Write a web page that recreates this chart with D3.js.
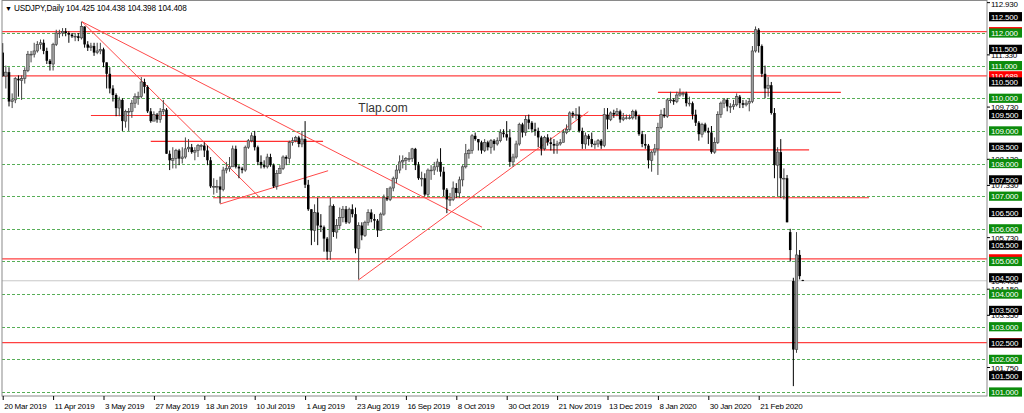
<!DOCTYPE html>
<html><head><meta charset="utf-8">
<script src="https://cdn.jsdelivr.net/npm/d3@7"></script>
<style>
body{margin:0;background:#fff;overflow:hidden}
svg{display:block}
text{font-family:"Liberation Sans",Arial,sans-serif}
</style>
</head><body>
<script>
// ---------- DATA ----------
const symbolTitle = "USDJPY,Daily";
const lastQuote = ["104.425","104.438","104.398","104.408"];
const tickLabels = ["20 Mar 2019","11 Apr 2019","3 May 2019","27 May 2019","18 Jun 2019","10 Jul 2019",
  "1 Aug 2019","23 Aug 2019","16 Sep 2019","8 Oct 2019","30 Oct 2019","21 Nov 2019","13 Dec 2019",
  "8 Jan 2020","30 Jan 2020","21 Feb 2020"];
const barsPerTick = 16;

const opens = [
111.40,110.68,110.80,109.90,109.95,110.60,110.55,110.60,110.85,111.35,
111.35,111.45,111.65,111.70,111.45,111.15,111.05,111.65,112.00,112.00,
112.05,112.00,111.95,111.90,111.90,111.85,112.20,111.65,111.55,111.60,
111.40,111.45,111.50,111.10,110.75,110.30,110.10,109.70,109.95,109.30,
109.60,109.60,109.85,110.05,110.05,110.50,110.35,109.60,109.30,109.50,
109.35,109.60,109.65,108.30,108.10,108.15,108.40,108.15,108.20,108.45,
108.50,108.35,108.40,108.55,108.55,108.40,108.10,107.30,107.30,107.30,
107.20,107.80,107.85,107.90,108.45,107.90,107.85,107.80,108.50,108.70,
108.85,108.50,108.05,107.95,107.90,108.20,107.95,107.30,107.70,107.85,
108.20,108.15,108.65,108.70,108.80,108.60,108.75,107.35,106.60,105.95,
106.50,106.10,106.05,105.70,105.30,106.70,105.90,106.10,106.35,106.60,
106.20,106.60,106.45,105.40,106.10,105.80,106.20,106.50,106.30,106.25,
105.95,106.45,106.95,106.90,107.25,107.55,107.80,108.05,108.10,108.15,
108.15,108.45,107.95,107.55,107.55,107.05,107.80,107.80,107.90,108.05,
107.75,107.20,106.90,106.90,107.25,107.10,107.50,107.90,108.30,108.40,
108.85,108.75,108.65,108.40,108.65,108.50,108.70,108.60,108.70,108.95,
108.90,108.80,108.05,108.20,108.60,109.20,108.95,109.35,109.25,109.05,
109.00,108.80,108.45,108.80,108.65,108.60,108.55,108.60,108.65,108.95,
109.05,109.55,109.50,109.50,109.00,108.60,108.85,108.75,108.60,108.60,
108.70,108.55,109.50,109.35,109.55,109.50,109.60,109.35,109.40,109.40,
109.40,109.60,109.45,108.90,108.60,108.55,108.10,108.35,108.45,109.10,
109.50,109.45,109.95,109.95,109.90,110.10,110.15,110.15,109.85,109.85,
109.50,109.25,108.90,109.20,109.00,108.95,108.35,108.65,109.50,109.85,
109.95,109.75,109.75,109.80,110.05,109.85,109.80,109.85,109.90,111.45,
112.10,111.60,110.75,110.30,110.40,109.55,107.95,108.35,107.55,107.55,
105.90,104.40,102.30,105.20,104.425];
const highs = [
111.69,111.00,110.95,110.15,110.65,110.70,110.70,110.95,111.45,111.45,
111.70,111.75,111.80,111.80,111.55,111.20,111.70,112.10,112.10,112.15,
112.15,112.05,112.00,112.00,112.00,112.35,112.20,111.75,111.70,111.70,
111.70,111.70,111.55,111.10,110.95,110.40,110.15,110.05,110.00,109.65,
109.70,109.95,110.15,110.20,110.65,110.60,110.40,109.70,109.60,109.55,
109.70,109.95,109.70,108.40,108.50,108.45,108.45,108.50,108.80,108.75,
108.60,108.50,108.60,108.60,108.65,108.55,108.20,107.55,107.50,107.60,
107.90,108.05,108.20,108.55,108.55,107.95,107.90,108.55,108.75,108.95,
109.00,108.55,108.25,108.10,108.30,108.30,108.00,107.80,107.95,108.25,
108.25,108.70,108.80,108.85,108.85,109.00,109.30,107.50,106.60,106.75,
106.95,106.45,106.10,105.75,106.95,106.75,106.30,106.65,106.70,106.70,
106.65,106.75,106.65,106.20,106.20,106.25,106.60,106.60,106.45,106.30,
106.50,107.05,107.25,107.30,107.60,107.95,108.25,108.25,108.20,108.35,
108.48,108.48,108.05,107.75,107.70,107.85,107.95,108.05,108.15,108.47,
107.90,107.25,107.10,107.45,107.40,107.60,107.95,108.60,108.45,108.90,
108.95,108.75,108.70,108.75,108.70,108.75,108.75,108.80,109.05,109.05,
109.30,109.05,108.30,108.70,109.25,109.25,109.48,109.50,109.30,109.25,
109.10,108.85,108.85,108.90,108.80,108.75,108.70,108.75,109.05,109.20,
109.60,109.60,109.70,109.75,109.10,108.95,108.90,108.95,108.70,108.75,
108.75,109.70,109.70,109.60,109.65,109.70,109.65,109.55,109.50,109.50,
109.65,109.65,109.50,109.00,108.90,108.60,108.40,108.60,109.25,109.65,
109.70,110.00,110.20,110.00,110.20,110.30,110.20,110.20,110.05,109.90,
109.65,109.30,109.25,109.25,109.10,109.15,108.80,109.60,109.90,110.00,
110.00,109.85,109.95,110.15,110.10,109.95,109.95,110.00,111.60,112.20,
112.15,111.65,111.00,110.65,110.50,109.70,108.50,108.75,107.85,107.65,
106.00,104.50,105.90,105.35,104.438];
const lows = [
110.65,110.30,109.75,109.70,109.85,110.05,109.95,110.45,110.80,111.10,
111.25,111.40,111.50,111.35,111.05,110.85,110.85,111.60,111.85,111.90,
111.90,111.70,111.85,111.75,111.75,111.80,111.55,111.45,111.45,111.30,
111.35,111.35,110.95,110.30,110.15,109.90,109.45,109.45,109.00,109.10,
109.00,109.40,109.70,109.80,110.00,110.15,109.55,109.25,109.30,109.25,
109.25,109.50,108.30,107.80,107.85,107.85,107.95,108.00,108.15,108.35,
108.30,108.10,108.20,108.40,108.20,107.95,107.25,107.05,107.10,106.78,
107.15,107.70,107.75,107.90,107.85,107.55,107.70,107.75,108.45,108.65,
108.40,107.95,107.85,107.85,107.85,107.90,107.25,107.20,107.70,107.80,
107.95,108.00,108.55,108.65,108.50,108.50,107.25,106.55,105.50,105.60,
105.50,105.90,105.30,105.05,105.05,105.75,105.70,106.00,106.20,106.15,
106.15,106.35,105.25,104.45,105.65,105.75,106.10,106.20,106.00,105.75,
105.95,106.40,106.85,106.85,107.15,107.40,107.70,107.85,107.80,108.05,
108.05,107.80,107.50,107.30,107.00,107.00,107.50,107.65,107.75,107.60,
107.00,106.48,106.70,106.85,106.95,106.95,107.30,107.85,108.15,108.30,
108.70,108.40,108.30,108.35,108.40,108.30,108.40,108.55,108.65,108.80,
108.70,107.90,107.90,108.15,108.55,108.80,108.85,109.05,108.95,108.85,
108.50,108.25,108.40,108.55,108.40,108.30,108.30,108.55,108.65,108.90,
109.00,109.40,109.35,108.95,108.45,108.45,108.55,108.50,108.45,108.50,
108.45,108.50,109.05,109.30,109.40,109.45,109.25,109.30,109.35,109.35,
109.35,109.35,108.85,108.50,108.45,107.85,107.75,108.25,107.65,109.05,
109.40,109.40,109.85,109.80,109.85,110.05,110.05,109.75,109.75,109.35,
109.15,108.70,108.80,108.95,108.60,108.30,108.30,108.60,109.40,109.70,
109.60,109.55,109.65,109.75,109.70,109.70,109.75,109.60,109.85,111.40,
111.40,110.65,110.00,110.05,109.50,107.55,107.00,106.95,106.90,106.20,
105.00,101.18,102.20,104.45,104.398];
const closes = [
110.68,110.80,109.90,109.95,110.60,110.55,110.60,110.85,111.35,111.35,
111.45,111.65,111.70,111.45,111.15,111.05,111.65,112.00,112.00,112.05,
112.00,111.95,111.90,111.90,111.85,112.20,111.65,111.55,111.60,111.40,
111.45,111.50,111.10,110.75,110.30,110.10,109.70,109.95,109.30,109.60,
109.60,109.85,110.05,110.05,110.50,110.35,109.60,109.30,109.50,109.35,
109.60,109.65,108.30,108.10,108.15,108.40,108.15,108.20,108.45,108.50,
108.35,108.40,108.55,108.55,108.40,108.10,107.30,107.30,107.30,107.20,
107.80,107.85,107.90,108.45,107.90,107.85,107.80,108.50,108.70,108.85,
108.50,108.05,107.95,107.90,108.20,107.95,107.30,107.70,107.85,108.20,
108.15,108.65,108.70,108.80,108.60,108.75,107.35,106.60,105.95,106.50,
106.10,106.05,105.70,105.30,106.70,105.90,106.10,106.35,106.60,106.20,
106.60,106.45,105.40,106.10,105.80,106.20,106.50,106.30,106.25,105.95,
106.45,106.95,106.90,107.25,107.55,107.80,108.05,108.10,108.15,108.15,
108.45,107.95,107.55,107.55,107.05,107.80,107.80,107.90,108.05,107.75,
107.20,106.90,106.90,107.25,107.10,107.50,107.90,108.30,108.40,108.85,
108.75,108.65,108.40,108.65,108.50,108.70,108.60,108.70,108.95,108.90,
108.80,108.05,108.20,108.60,109.20,108.95,109.35,109.25,109.05,109.00,
108.80,108.45,108.80,108.65,108.60,108.55,108.60,108.65,108.95,109.05,
109.55,109.50,109.50,109.00,108.60,108.85,108.75,108.60,108.60,108.70,
108.55,109.50,109.35,109.55,109.50,109.60,109.35,109.40,109.40,109.40,
109.60,109.45,108.90,108.60,108.55,108.10,108.35,108.45,109.10,109.50,
109.45,109.95,109.95,109.90,110.10,110.15,110.15,109.85,109.85,109.50,
109.25,108.90,109.20,109.00,108.95,108.35,108.65,109.50,109.85,109.95,
109.75,109.75,109.80,110.05,109.85,109.80,109.85,109.90,111.45,112.10,
111.60,110.75,110.30,110.40,109.55,107.95,108.35,107.55,107.55,106.20,
105.35,102.30,105.20,104.55,104.408];

const gridLevels = [112,111,110,109,108,107,106,105,104,103,102,101];
const halfLevels = [112.5,111.5,110.5,109.5,108.5,107.5,106.5,105.5,104.5,103.5,102.5,101.5];
const scaleTicks = [112.930,111.330,109.730,108.130,107.330,105.730,104.150,103.350,101.750];
const redLevels = [112.04,110.689,105.08,102.51];
const bidPrice = 104.408;
// horizontal segments: [price, fromBar, toBar]
const hSegments = [[109.47,28,220.4],[108.68,47,101.7],[106.95,66.8,275],[108.42,164.2,256],[110.18,208,266.1]];
// trend lines: [bar1, price1, bar2, price2]
const trendLines = [[25.17,112.346,81.68,106.953],[25.17,112.346,152.16,106.05],[112.9,104.43,185.9,109.59],[69.0,106.76,103.3,107.78]];
const watermark = "Tlap.com";

// ---------- DRAW ----------
const W=1024,H=413;
const L=2,R=987,T=0.5,B=396;
const svg=d3.select("body").append("svg").attr("width",W).attr("height",H);
const x=d3.scaleLinear().domain([0,240]).range([2.7,758.7]);
const y=d3.scaleLinear().domain([101,112]).range([392,33]);
const bars=opens.map((o,i)=>({i,o,h:highs[i],l:lows[i],c:closes[i]}));

svg.append("defs").append("clipPath").attr("id","pc").append("rect")
  .attr("x",L).attr("y",T).attr("width",R-L).attr("height",B-T);
const g=svg.append("g").attr("clip-path","url(#pc)");

// green dotted grid levels
g.selectAll("line.gl").data(gridLevels).join("line")
  .attr("x1",L).attr("x2",R).attr("y1",d=>Math.round(y(d))+0.5).attr("y2",d=>Math.round(y(d))+0.5)
  .attr("stroke","#3aa03a").attr("stroke-width",1).attr("stroke-dasharray","3,2").attr("opacity",0.85);

// bid line
g.append("line").attr("x1",L).attr("x2",R).attr("y1",y(bidPrice)).attr("y2",y(bidPrice))
  .attr("stroke","#c8c8c8").attr("stroke-width",1);

// red full-width levels
g.selectAll("line.rl").data(redLevels).join("line")
  .attr("x1",L).attr("x2",R).attr("y1",d=>y(d)).attr("y2",d=>y(d))
  .attr("stroke","#ff4040").attr("stroke-width",1.3);

// red segments
g.selectAll("line.hs").data(hSegments).join("line")
  .attr("x1",d=>x(d[1])).attr("x2",d=>x(d[2])).attr("y1",d=>y(d[0])).attr("y2",d=>y(d[0]))
  .attr("stroke","#ff3030").attr("stroke-width",1.1);

// trend lines
g.selectAll("line.tl").data(trendLines).join("line")
  .attr("x1",d=>x(d[0])).attr("y1",d=>y(d[1])).attr("x2",d=>x(d[2])).attr("y2",d=>y(d[3]))
  .attr("stroke","#ff4a4a").attr("stroke-width",1);

// candles
const bw=2.5;
const cg=g.append("g");
cg.selectAll("line.w").data(bars).join("line")
  .attr("x1",d=>x(d.i)).attr("x2",d=>x(d.i)).attr("y1",d=>y(d.h)).attr("y2",d=>y(d.l))
  .attr("stroke",d=>d.c>=d.o?"#444":"#000").attr("stroke-width",1);
cg.selectAll("rect.b").data(bars).join("rect")
  .attr("x",d=>x(d.i)-bw/2).attr("width",bw)
  .attr("y",d=>y(Math.max(d.o,d.c)))
  .attr("height",d=>Math.max(0.8,Math.abs(y(d.o)-y(d.c))))
  .attr("fill",d=>d.c>=d.o?"#9c9c9c":"#000")
  .attr("stroke",d=>d.c>=d.o?"#3c3c3c":"none").attr("stroke-width",0.6);

// watermark
g.append("text").attr("x",383).attr("y",112).attr("text-anchor","middle")
  .attr("font-size",12).attr("fill","#333").text(watermark);

// frame
svg.append("rect").attr("x",L).attr("y",T).attr("width",R-L).attr("height",B-T)
  .attr("fill","none").attr("stroke","#8a8a8a").attr("stroke-width",1);

// title
svg.append("text").attr("x",5).attr("y",11).attr("font-size",7)
  .attr("font-family","DejaVu Sans").attr("fill","#000").text("▼");
svg.append("text").attr("x",14).attr("y",11).attr("font-size",8.2).attr("letter-spacing",-0.15)
  .attr("fill","#000").text(symbolTitle+"  "+lastQuote.join(" "));

// right scale ticks
const ax=svg.append("g");
ax.selectAll("line.st").data(scaleTicks).join("line")
  .attr("x1",R).attr("x2",R+3).attr("y1",d=>y(d)).attr("y2",d=>y(d)).attr("stroke","#000");
ax.selectAll("text.st").data(scaleTicks).join("text")
  .attr("x",R+4).attr("y",d=>Math.max(7,y(d)+3)).attr("font-size",8).attr("letter-spacing",-0.25)
  .attr("fill","#000").text(d=>d.toFixed(3));

function priceLabel(sel,data,bg,fg,fmt){
  const gg=sel.append("g");
  const e=gg.selectAll("g").data(data).join("g").attr("transform",d=>`translate(${R+2},${y(d)})`);
  e.append("rect").attr("x",0).attr("y",-4.6).attr("width",33).attr("height",9.2).attr("fill",bg);
  e.append("text").attr("x",2).attr("y",3).attr("font-size",8).attr("letter-spacing",-0.25)
    .attr("fill",fg).text(fmt);
}
priceLabel(ax,[bidPrice],"#fff","#000",d=>d.toFixed(3));
priceLabel(ax,redLevels,"#ff0000","#fff",d=>d.toFixed(3));
priceLabel(ax,halfLevels,"#000","#fff",d=>d.toFixed(3));
priceLabel(ax,gridLevels,"#0c8c0c","#fff",d=>d.toFixed(3));

// bottom axis
const tickBars=tickLabels.map((d,i)=>i*barsPerTick);
const xa=d3.axisBottom(x).tickValues(tickBars).tickSize(4).tickFormat((d,i)=>tickLabels[i]);
const xg=svg.append("g").attr("transform",`translate(0,${B})`).call(xa);
xg.select(".domain").remove();
xg.selectAll(".tick line").attr("stroke","#000");
xg.selectAll(".tick text").attr("text-anchor","start").attr("dx",1).attr("dy",0).attr("y",13)
  .attr("font-size",8).attr("letter-spacing",-0.25).attr("font-family","Liberation Sans").attr("fill","#000");
</script>
</body></html>
